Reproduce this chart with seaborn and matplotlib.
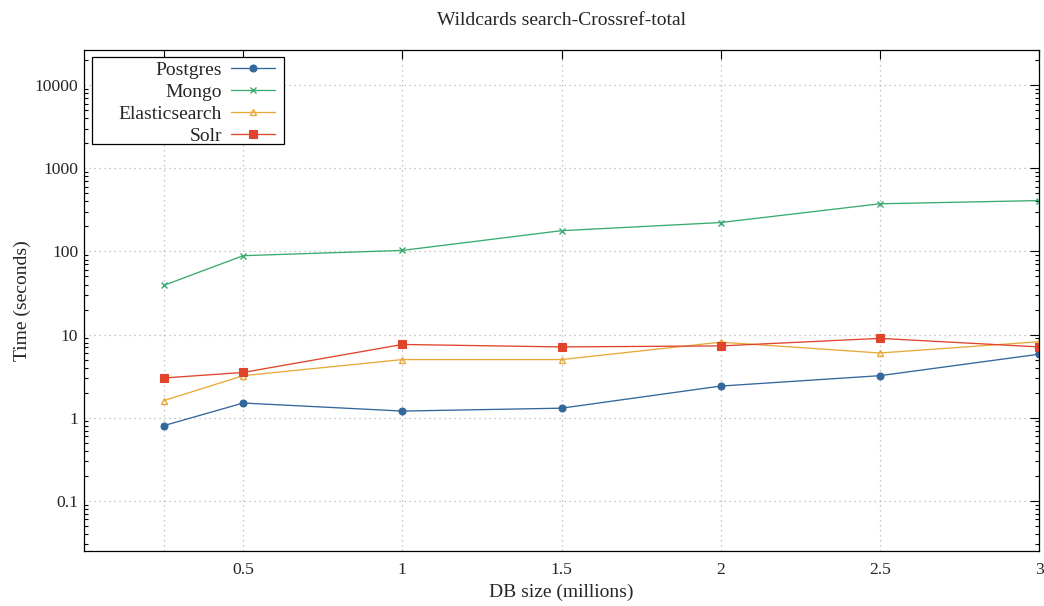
import numpy as np
import pandas as pd
import matplotlib
matplotlib.use("Agg")
import matplotlib.pyplot as plt
import matplotlib.ticker as mticker
from matplotlib.patches import Rectangle
import seaborn as sns

# ---- data ----
db_size = [0.25, 0.5, 1, 1.5, 2, 2.5, 3]
postgres = [0.8, 1.5, 1.2, 1.3, 2.4, 3.2, 5.8]
mongo = [39, 89, 103, 178, 223, 375, 410]
elastic = [1.6, 3.2, 5.0, 5.0, 8.1, 6.0, 8.2]
solr = [3.0, 3.5, 7.6, 7.1, 7.3, 9.0, 7.1]
series_names = ["Postgres", "Mongo", "Elasticsearch", "Solr"]
x_ticks = [0.25, 0.5, 1, 1.5, 2, 2.5, 3]
x_tick_labels = ["", "0.5", "1", "1.5", "2", "2.5", "3"]
y_ticks = [0.1, 1, 10, 100, 1000, 10000]
y_tick_labels = ["0.1", "1", "10", "100", "1000", "10000"]
title = "Wildcards search-Crossref-total"
x_label = "DB size (millions)"
y_label = "Time (seconds)"

sns.set_style("white")
plt.rcParams["font.family"] = ["Liberation Serif", "DejaVu Serif"]
plt.rcParams["font.size"] = 12

W, H = 1044, 606
fig = plt.figure(figsize=(W / 100, H / 100), dpi=100)
ax = fig.add_axes([84 / W, 55 / H, (1039 - 84) / W, (551 - 50) / H])

df = pd.DataFrame({"x": db_size, "Postgres": postgres, "Mongo": mongo,
                   "Elasticsearch": elastic, "Solr": solr})

styles = {
    "Postgres": dict(color="#34679b", marker="o", ms=5, mfc="#34679b", mec="#34679b", mew=0.8),
    "Mongo": dict(color="#3aaa6e", marker="x", ms=5, mfc="#3aaa6e", mec="#3aaa6e", mew=1.0),
    "Elasticsearch": dict(color="#e8a93a", marker="^", ms=5, mfc="none", mec="#e8a93a", mew=1.0),
    "Solr": dict(color="#e0442a", marker="s", ms=5.3, mfc="#e0442a", mec="#e0442a", mew=0.8),
}

for name in series_names:
    st = styles[name]
    sns.lineplot(data=df, x="x", y=name, ax=ax, label=name, color=st["color"],
                 marker=st["marker"], markersize=st["ms"], markerfacecolor=st["mfc"],
                 markeredgecolor=st["mec"], markeredgewidth=st["mew"], linewidth=0.95)

ax.set_yscale("log")
ax.set_xlim(0, 3)
ax.set_ylim(10 ** -1.605, 10 ** 4.425)

ax.xaxis.set_major_locator(mticker.FixedLocator(x_ticks))
ax.xaxis.set_major_formatter(mticker.FixedFormatter(x_tick_labels))
ax.yaxis.set_major_locator(mticker.FixedLocator(y_ticks))
ax.yaxis.set_major_formatter(mticker.FixedFormatter(y_tick_labels))
ax.yaxis.set_minor_locator(mticker.LogLocator(base=10, subs=np.arange(2, 10), numticks=20))
ax.yaxis.set_minor_formatter(mticker.NullFormatter())

ax.tick_params(axis="both", which="major", direction="in", length=6.5, width=0.8,
               top=True, right=True, labelsize=12.6, color="black")
ax.tick_params(axis="y", which="minor", direction="in", length=3.2, width=0.8,
               left=True, right=True, color="black")
ax.tick_params(axis="y", which="major", pad=4)
ax.tick_params(axis="x", which="major", pad=8)

ax.grid(True, which="major", color="#b4b4b4", linestyle=(0, (1, 3)), linewidth=0.9)
for sp in ax.spines.values():
    sp.set_color("black")
    sp.set_linewidth(0.9)

ax.set_title(title, fontsize=14, pad=18)
ax.set_xlabel(x_label, fontsize=14, labelpad=4)
ax.set_ylabel(y_label, fontsize=14, labelpad=3)

# legend box (gnuplot-style fixed-width key)
box = Rectangle((92 / W, 1 - 144 / H), (284 - 92) / W, (144 - 57) / H,
                transform=fig.transFigure, facecolor="white", edgecolor="black",
                linewidth=0.9, zorder=4)
ax.add_artist(box)
leg = ax.legend(loc="upper right", bbox_to_anchor=(284 / W, 1 - 52.5 / H),
                bbox_transform=fig.transFigure, markerfirst=False,
                frameon=False, handlelength=2.3, handletextpad=0.45,
                labelspacing=0.22, fontsize=14, borderpad=0.45, borderaxespad=0.0)
leg.set_zorder(5)
for t in leg.get_texts():
    t.set_ha("right")
leg._legend_box.align = "right"

fig.savefig("out.png", dpi=100)
